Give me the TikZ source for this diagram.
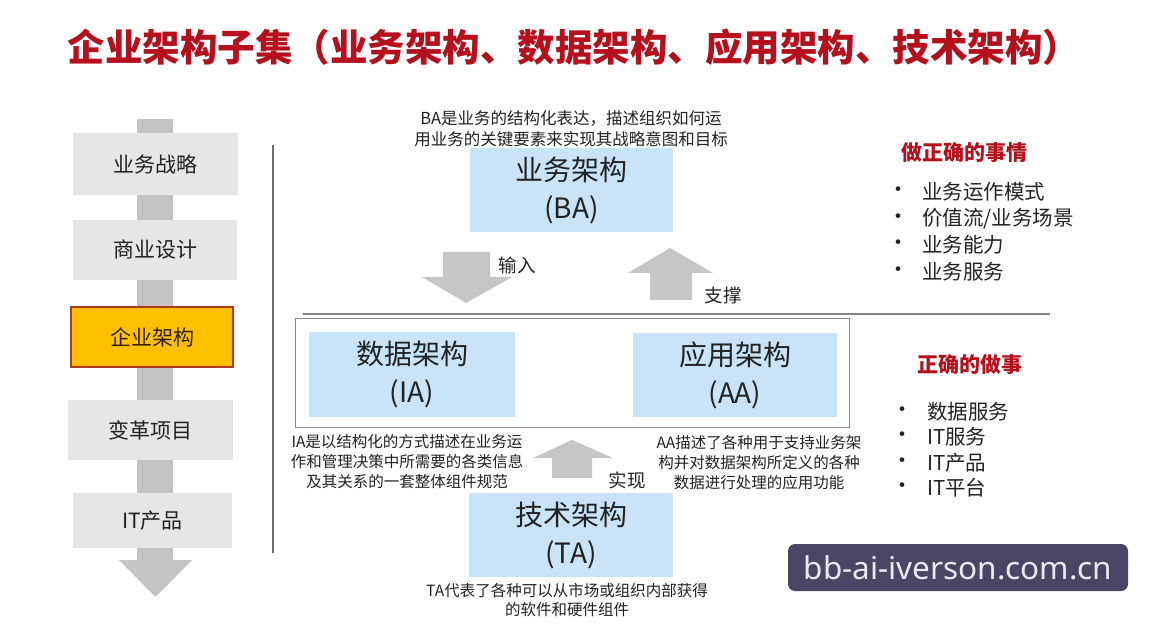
\documentclass[tikz,border=0pt]{standalone}
\usepackage{fontspec}
\setmainfont{Noto Sans CJK SC}
\newfontfamily\wmfont{Noto Sans}
\definecolor{titlered}{HTML}{B5101C}
\definecolor{bargray}{HTML}{C4C4C4}
\definecolor{boxgray}{HTML}{E6E6E6}
\definecolor{eaorange}{HTML}{FFC000}
\definecolor{eaborder}{HTML}{B03A1E}
\definecolor{archblue}{HTML}{C8E4F6}
\definecolor{arrowgray}{HTML}{C6C6C6}
\definecolor{textdark}{HTML}{222222}
\definecolor{wmpurple}{HTML}{4A4564}
\definecolor{wmtext}{HTML}{ECE8F2}
\definecolor{linegray}{HTML}{6E6E6E}
\begin{document}
\begin{tikzpicture}[x=1pt,y=-1pt,
  every node/.style={inner sep=0pt, outer sep=0pt},
  leftbox/.style={fill=boxgray, text=textdark, font=\fontsize{21}{24}\selectfont, minimum width=165, minimum height=60},
  archbox/.style={fill=archblue, text=textdark, font=\fontsize{28}{38}\selectfont, align=center, minimum width=204, minimum height=84},
  desc/.style={text=textdark, align=center, font=\fontsize{15.5}{20}\selectfont},
  arrowlabel/.style={text=textdark, font=\fontsize{18.5}{22}\selectfont},
  heading/.style={text=titlered, font=\fontsize{21}{24}\selectfont\bfseries},
  item/.style={text=textdark, anchor=west, font=\fontsize{20.5}{24}\selectfont},
  bullet/.style={text=textdark, font=\fontsize{22}{24}\selectfont},
  blockarrow/.style={fill=arrowgray}
]
\useasboundingbox[fill=white] (0,0) rectangle (1165,628);

% title
\node[text=titlered, font=\fontsize{37.5}{40}\selectfont\bfseries] (title) at (574,47) {企业架构子集（业务架构、数据架构、应用架构、技术架构）};

% left column flow
\fill[bargray] (137,119) rectangle (173,562);
\fill[bargray] (119,560) -- (192,560) -- (155.5,597) -- cycle;
\node[leftbox, minimum height=62] (s1) at (155.5,164) {业务战略};
\node[leftbox, minimum width=164] (s2) at (155,250) {商业设计};
\node[leftbox, fill=eaorange, draw=eaborder, line width=2pt, minimum width=162, text={black!75!brown}] (s3) at (152,337) {企业架构};
\node[leftbox] (s4) at (150.5,430) {变革项目};
\node[leftbox, minimum width=159, minimum height=55] (s5) at (152.5,520.5) {IT产品};

% divider lines
\coordinate (vtop) at (273,145);
\coordinate (vbot) at (273,553);
\draw[linegray, line width=1.3pt] (vtop) -- (vbot);
\coordinate (hl) at (303,314);
\coordinate (hr) at (1050,314);
\draw[linegray!85, line width=1.5pt] (hl) -- (hr);

% frame around IA / AA
\node[draw=linegray!80, line width=1pt, minimum width=554, minimum height=108] (frame) at (572,373) {};

% architecture boxes
\node[archbox, minimum width=203] (ba) at (571.5,190) {业务架构\\(BA)};
\node[archbox, minimum width=206, minimum height=85] (ia) at (412,374.5) {数据架构\\(IA)};
\node[archbox] (aa) at (735,375) {应用架构\\(AA)};
\node[archbox] (ta) at (571,535) {技术架构\\(TA)};

% descriptions
\node[desc, font=\fontsize{16.5}{21}\selectfont] (badesc) at (571,128.5) {BA是业务的结构化表达，描述组织如何运\\用业务的关键要素来实现其战略意图和目标};
\node[desc] (iadesc) at (407,462) {IA是以结构化的方式描述在业务运\\作和管理决策中所需要的各类信息\\及其关系的一套整体组件规范};
\node[desc] (aadesc) at (759,463) {AA描述了各种用于支持业务架\\构并对数据架构所定义的各种\\数据进行处理的应用功能};
\node[desc, font=\fontsize{15.5}{19}\selectfont] (tadesc) at (567,600.5) {TA代表了各种可以从市场或组织内部获得\\的软件和硬件组件};

% block arrows
\fill[blockarrow] (443,252) -- (490,252) -- (490,277) -- (512,277) -- (466,303) -- (422,277) -- (443,277) -- cycle;
\node[arrowlabel] (in) at (517,265) {输入};
\fill[blockarrow] (650,300) -- (692,300) -- (692,273) -- (713,273) -- (670,248) -- (628,273) -- (650,273) -- cycle;
\node[arrowlabel] (sup) at (723,295) {支撑};
\fill[blockarrow] (552,478) -- (592,478) -- (592,458) -- (613,458) -- (572,440) -- (533,458) -- (552,458) -- cycle;
\node[arrowlabel] (impl) at (627,480) {实现};

% right side
\node[heading] (h1) at (964,153) {做正确的事情};
\foreach \y/\t [count=\i] in {192/{业务运作模式}, 219/{价值流/业务场景}, 245/{业务能力}, 272/{业务服务}} {
  \node[bullet] (b1\i) at (898,\y) {•};
  \node[item] (t1\i) at (922,\y) {\t};
}
\node[heading] (h2) at (970,365) {正确的做事};
\foreach \y/\t [count=\i] in {412/{数据服务}, 437/{IT服务}, 463/{IT产品}, 488/{IT平台}} {
  \node[bullet] (b2\i) at (902,\y) {•};
  \node[item] (t2\i) at (927,\y) {\t};
}

% watermark
\node[fill=wmpurple, rounded corners=7pt, minimum width=340, minimum height=47, text=wmtext, font=\wmfont\fontsize{31.5}{34}\selectfont] (wm) at (958,567.5) {bb-ai-iverson.com.cn};
\end{tikzpicture}
\end{document}
